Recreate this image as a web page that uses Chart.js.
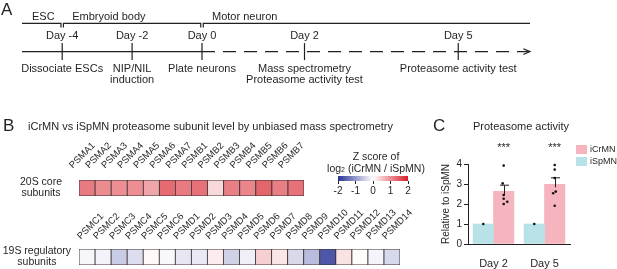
<!DOCTYPE html>
<html>
<head>
<meta charset="utf-8">
<title>Proteasome subunits and activity</title>
<script src="https://cdn.jsdelivr.net/npm/chart.js@4.4.1/dist/chart.umd.min.js"></script>
<style>
  html, body { margin: 0; padding: 0; background: #fff; }
  #figure { position: relative; width: 617px; height: 269px; overflow: hidden;
            font-family: "Liberation Sans", Arial, sans-serif; color: #231f20; }
  .panel { position: absolute; }
  .txt { position: absolute; white-space: nowrap; line-height: 1; font-size: 11px; }
  .letter { font-size: 17px; }
  .mid { transform: translateX(-50%); text-align: center; }
  .legend-row { height: 12px; font-size: 9px; line-height: 9px; white-space: nowrap; }
  .legend-row i { display: inline-block; width: 11px; height: 9px; margin-right: 3px; vertical-align: top; }
</style>
</head>
<body>
<div id="figure">
  <div class="panel" style="left:0;top:0;width:300px;height:100px"><canvas id="timelineLeft"></canvas></div>
  <div class="panel" style="left:140px;top:0;width:477px;height:100px"><canvas id="timelineRight"></canvas></div>
  <div class="panel" style="left:0;top:130px;width:340px;height:70px"><canvas id="core20S"></canvas></div>
  <div class="panel" style="left:0;top:200px;width:420px;height:69px"><canvas id="reg19S"></canvas></div>
  <div class="panel" style="left:318px;top:172px;width:112px;height:28px"><canvas id="zBar"></canvas></div>
  <div class="panel" style="left:430px;top:140px;width:187px;height:129px"><canvas id="activity"></canvas></div>

  <div class="txt letter" style="left:1px;top:1px">A</div>
  <div class="txt letter" style="left:3px;top:117px">B</div>
  <div class="txt letter" style="left:433px;top:117px">C</div>
  <div class="txt" style="left:28px;top:121px">iCrMN vs iSpMN proteasome subunit level by unbiased mass spectrometry</div>
  <div class="txt" style="left:473px;top:121px">Proteasome activity</div>
  <div class="txt mid" style="left:376px;top:151px;font-size:10.5px">Z score of</div>
  <div class="txt mid" style="left:376px;top:163px;font-size:10.5px">log<span style="font-size:7px">2</span> (iCrMN / iSpMN)</div>
  <div class="panel" id="legendC" style="left:576px;top:145px"></div>
</div>

<script>
// panel A timeline
const timelineDays = [-4, -2, 0, 2, 5];
const dayLabels = ['Day -4', 'Day -2', 'Day 0', 'Day 2', 'Day 5'];
const eventLabels = [
  ['Dissociate ESCs'],
  ['NIP/NIL', 'induction'],
  ['Plate neurons'],
  ['Mass spectrometry', 'Proteasome activity test'],
  ['Proteasome activity test']
];
const stageNames = ['ESC', 'Embryoid body', 'Motor neuron'];
const stageStart = [-5.15, -4, 0];
const stageEnd = [-4, 0, 6.4];

// panel B heatmaps (Z score of log2 iCrMN / iSpMN)
const coreSubunits = ['PSMA1', 'PSMA2', 'PSMA3', 'PSMA4', 'PSMA5', 'PSMA6', 'PSMA7',
                      'PSMB1', 'PSMB2', 'PSMB3', 'PSMB4', 'PSMB5', 'PSMB6', 'PSMB7'];
const coreZ = [1.17, 1.02, 1.0, 1.0, 0.8, 1.32, 1.17, 1.26, 0.35, 1.14, 1.08, 1.36, 1.14, 1.26];
const regSubunits = ['PSMC1', 'PSMC2', 'PSMC3', 'PSMC4', 'PSMC5', 'PSMC6', 'PSMD1', 'PSMD2',
                     'PSMD3', 'PSMD4', 'PSMD5', 'PSMD6', 'PSMD7', 'PSMD8', 'PSMD9', 'PSMD10',
                     'PSMD11', 'PSMD12', 'PSMD13', 'PSMD14'];
const regZ = [-0.08, -0.11, -0.5, -0.33, 0.06, -0.07, -0.23, -0.21, 0.17, -0.45,
              -0.16, 0.43, 0.22, -0.36, -0.65, -1.65, 0.26, 0.04, -0.1, -0.38];
const zTicks = [-2, -1, 0, 1, 2];

// panel C proteasome activity
const activityDays = ['Day 2', 'Day 5'];
const iSpMNMean = [1, 1];
const iCrMNMean = [2.63, 2.98];
const iCrMNSem = [0.31, 0.33];
const iSpMNPoints = [[1], [1]];
const iCrMNPoints = [[3.92, 3.03, 2.45, 2.26, 2.11, 2.0], [3.95, 3.72, 3.3, 2.62, 2.54, 1.91]];
const iCrMNJitter = [[0, -0.02, 0, 0, 0.07, 0], [0, 0, 0, 0.02, -0.03, 0]];
const significance = ['***', '***'];
const activityTicks = [0, 1, 2, 3, 4];
const legendOrder = ['iCrMN', 'iSpMN'];

// styles
const FONT_FAMILY = '"Liberation Sans", Arial, sans-serif';
const INK = '#231f20';
const CELL_EDGE = '#3b3031';
const SERIES_COLOR = { iCrMN: '#f6b5be', iSpMN: '#b9e2e8' };
const zLow = [40, 50, 150], zMid = [255, 255, 255], zHigh = [215, 30, 40];
const BAR_SHIFT = 0.2;   // half of a bar, in day-group units

Chart.defaults.font.family = FONT_FAMILY;
Chart.defaults.color = INK;
Chart.defaults.animation = false;
Chart.defaults.responsive = true;
Chart.defaults.maintainAspectRatio = false;
Chart.defaults.events = [];
Chart.defaults.plugins.legend.display = false;
Chart.defaults.plugins.tooltip.enabled = false;

function zColor(z) {
  const t = Math.max(-1, Math.min(1, z / 2));
  const end = t < 0 ? zLow : zHigh;
  const c = zMid.map((m, k) => Math.round(m + (end[k] - m) * Math.abs(t)));
  return `rgb(${c.join(',')})`;
}

// ---------- A: timeline ----------
const lane = { stageText: 9, stage: 17, stageTick: 22, day: 33, line: 52, event: 74, eventStep: 13 };

function lineSet(data, extra) {
  return Object.assign({ data, showLine: true, borderColor: INK, borderWidth: 1.2,
                         pointRadius: 0, clip: false }, extra);
}

function stageBracket(i, gap) {
  const last = stageNames.length - 1;
  const s = i > 0 ? stageStart[i] + gap : stageStart[i];
  const e = i < last ? stageEnd[i] - gap : stageEnd[i];
  const pts = [{ x: s, y: lane.stage }, { x: e, y: lane.stage }];
  if (i > 0) pts.unshift({ x: s, y: lane.stageTick });
  if (i < last) pts.push({ x: e, y: lane.stageTick });
  return lineSet(pts);
}

function dayTicks(idx) {
  return { data: idx.map(i => ({ x: timelineDays[i], y: lane.line })), showLine: false,
           pointStyle: 'line', pointRadius: 8.5, rotation: 90, borderColor: INK,
           borderWidth: 1.2, clip: false };
}

function timelineText(stages, days) {
  return {
    id: 'timelineText',
    afterDatasetsDraw(chart) {
      const { ctx, scales: { x, y } } = chart;
      ctx.save();
      ctx.fillStyle = INK;
      ctx.font = `11px ${FONT_FAMILY}`;
      ctx.textBaseline = 'middle';
      ctx.textAlign = 'left';
      stages.forEach(i => {
        ctx.fillText(stageNames[i], x.getPixelForValue(stageStart[i]) + 10, y.getPixelForValue(lane.stageText));
      });
      ctx.textAlign = 'center';
      days.forEach(i => {
        const px = x.getPixelForValue(timelineDays[i]);
        ctx.fillText(dayLabels[i], px, y.getPixelForValue(lane.day));
        eventLabels[i].forEach((txt, k) => {
          ctx.fillText(txt, px, y.getPixelForValue(lane.event + k * lane.eventStep));
        });
      });
      ctx.restore();
    }
  };
}

function timelineChart(id, xMin, xMax, pad, datasets, stages, days) {
  return new Chart(document.getElementById(id), {
    type: 'scatter',
    data: { datasets },
    options: {
      layout: { padding: { left: pad[0], right: pad[1], top: 0, bottom: 0 } },
      scales: {
        x: { type: 'linear', min: xMin, max: xMax, display: false },
        y: { type: 'linear', min: 0, max: 100, reverse: true, display: false }
      }
    },
    plugins: [timelineText(stages, days)]
  });
}

const preDays = [0, 1, 2], postDays = [3, 4];
const timelineEnd = stageEnd[stageEnd.length - 1];
const arrowDepth = 0.13;

timelineChart('timelineLeft', stageStart[0], 0, [22, 98], [
  stageBracket(0, 0.035),
  stageBracket(1, 0.035),
  lineSet([{ x: stageStart[0], y: lane.line }, { x: 0, y: lane.line }]),
  dayTicks(preDays)
], [0, 1], preDays);

timelineChart('timelineRight', 0, timelineEnd, [62, 87], [
  stageBracket(2, 0.025),
  lineSet([{ x: 0, y: lane.line }, { x: timelineEnd - arrowDepth / 3, y: lane.line }], { borderDash: [13, 8] }),
  lineSet([{ x: timelineEnd - arrowDepth, y: lane.line - 3.5 }, { x: timelineEnd, y: lane.line },
           { x: timelineEnd - arrowDepth, y: lane.line + 3.5 }]),
  dayTicks(postDays)
], [2], postDays);

// ---------- B: heatmaps ----------
const rowSpan = 1;

function heatmapChart(id, labels, z, rowLabel, o) {
  return new Chart(document.getElementById(id), {
    type: 'bar',
    data: {
      labels,
      datasets: [{
        data: labels.map(() => rowSpan),
        backgroundColor: z.map(zColor),
        borderColor: CELL_EDGE, borderWidth: 0.8, borderSkipped: false,
        barPercentage: 1, categoryPercentage: 1
      }]
    },
    options: {
      layout: { padding: { left: 0, right: o.padRight, top: 0, bottom: 4 } },
      scales: {
        x: {
          position: 'top', grid: { display: false }, border: { display: false },
          ticks: { autoSkip: false, minRotation: 45, maxRotation: 45, padding: o.labelGap,
                   labelOffset: o.labelShift, font: { size: 9.5 }, color: INK },
          afterFit: s => { s.height = o.axisHeight; s.paddingLeft = 0; s.paddingRight = 0; }
        },
        y: {
          min: 0, max: rowSpan, grid: { display: false }, border: { display: false },
          afterBuildTicks: s => { s.ticks = [{ value: rowSpan / 2 }]; },
          ticks: { callback: () => rowLabel, crossAlign: 'center', padding: o.rowPad,
                   font: { size: 10.5, lineHeight: 1.05 }, color: INK },
          afterFit: s => { s.width = 79; s.paddingTop = 0; s.paddingBottom = 0; }
        }
      }
    }
  });
}

heatmapChart('core20S', coreSubunits, coreZ, ['20S core', 'subunits'],
             { padRight: 36, axisHeight: 50, labelShift: -8, labelGap: 1, rowPad: 9 });
heatmapChart('reg19S', regSubunits, regZ, ['19S regulatory', 'subunits'],
             { padRight: 20, axisHeight: 49, labelShift: 0, labelGap: -1, rowPad: 0 });

// colour scale bar
const zGradient = {
  id: 'zGradient',
  beforeDatasetsDraw(chart) {
    const { ctx, chartArea: a, scales: { x } } = chart;
    const lo = zTicks[0], hi = zTicks[zTicks.length - 1];
    const g = ctx.createLinearGradient(x.getPixelForValue(lo), 0, x.getPixelForValue(hi), 0);
    zTicks.forEach(v => g.addColorStop((v - lo) / (hi - lo), zColor(v)));
    ctx.save();
    ctx.fillStyle = g;
    ctx.fillRect(a.left, a.top, a.width, a.height);
    ctx.restore();
  }
};

new Chart(document.getElementById('zBar'), {
  type: 'scatter',
  data: { datasets: [] },
  options: {
    layout: { padding: { left: 20, right: 22, top: 4, bottom: 0 } },
    scales: {
      x: {
        type: 'linear', min: zTicks[0], max: zTicks[zTicks.length - 1],
        afterBuildTicks: s => { s.ticks = zTicks.map(v => ({ value: v })); },
        grid: { drawOnChartArea: false, tickLength: 3, color: INK },
        border: { display: false },
        ticks: { padding: 1, font: { size: 10 }, color: INK },
        afterFit: s => { s.height = 19; s.paddingLeft = 0; s.paddingRight = 0; }
      },
      y: { display: false, min: 0, max: 1 }
    }
  },
  plugins: [zGradient]
});

// ---------- C: proteasome activity ----------
const spBars = activityDays.map((d, i) => ({ x: i - BAR_SHIFT, y: iSpMNMean[i] }));
const crBars = activityDays.map((d, i) => ({ x: i + BAR_SHIFT, y: iCrMNMean[i] }));
const dotData = [];
activityDays.forEach((d, i) => {
  iSpMNPoints[i].forEach(v => dotData.push({ x: i - BAR_SHIFT, y: v }));
  iCrMNPoints[i].forEach((v, k) => dotData.push({ x: i + BAR_SHIFT + iCrMNJitter[i][k], y: v }));
});

const activityMarks = {
  id: 'activityMarks',
  afterDatasetDraw(chart, args) {
    if (args.index !== 1) return;
    const { ctx, scales: { y } } = chart;
    ctx.save();
    ctx.strokeStyle = INK;
    ctx.lineWidth = 1;
    args.meta.data.forEach((bar, i) => {
      const top = y.getPixelForValue(iCrMNMean[i] + iCrMNSem[i]);
      const x = Math.round(bar.x) + 0.5;
      ctx.beginPath();
      ctx.moveTo(x, y.getPixelForValue(iCrMNMean[i]) + 3);
      ctx.lineTo(x, top);
      ctx.moveTo(x - 4.5, top);
      ctx.lineTo(x + 4.5, top);
      ctx.stroke();
    });
    ctx.restore();
  },
  afterDatasetsDraw(chart) {
    const { ctx, chartArea } = chart;
    ctx.save();
    ctx.fillStyle = INK;
    ctx.font = `11px ${FONT_FAMILY}`;
    ctx.textAlign = 'center';
    ctx.textBaseline = 'middle';
    chart.getDatasetMeta(1).data.forEach((bar, i) => {
      ctx.fillText(significance[i], bar.x, chartArea.top - 16);
    });
    ctx.restore();
  }
};

new Chart(document.getElementById('activity'), {
  type: 'bar',
  data: {
    datasets: [
      { label: 'iSpMN', data: spBars, backgroundColor: SERIES_COLOR.iSpMN, grouped: false,
        categoryPercentage: 1, barPercentage: 1, order: 2 },
      { label: 'iCrMN', data: crBars, backgroundColor: SERIES_COLOR.iCrMN, grouped: false,
        categoryPercentage: 1, barPercentage: 1, order: 2 },
      { type: 'scatter', data: dotData, pointRadius: 1.3,
        backgroundColor: '#111', borderWidth: 0, clip: false, order: 1 }
    ]
  },
  options: {
    layout: { padding: { left: 0, right: 47, top: 24, bottom: 0 } },
    scales: {
      x: {
        type: 'linear', min: -0.5, max: activityDays.length - 0.5, offset: false,
        afterBuildTicks: s => { s.ticks = activityDays.map((d, i) => ({ value: i })); },
        grid: { display: false }, border: { display: true, color: INK, width: 1 },
        ticks: { padding: 5, font: { size: 11 }, color: INK, callback: (v, i) => activityDays[i] },
        afterFit: s => { s.height = 25; }
      },
      y: {
        min: activityTicks[0], max: activityTicks[activityTicks.length - 1],
        afterBuildTicks: s => { s.ticks = activityTicks.map(v => ({ value: v })); },
        grid: { drawOnChartArea: false, tickLength: 4, color: INK },
        border: { display: true, color: INK, width: 1 },
        ticks: { padding: 2, font: { size: 10 }, color: INK },
        title: { display: true, text: 'Relative to iSpMN', font: { size: 10 }, color: INK,
                 padding: { top: 10, bottom: 0 } },
        afterFit: s => { s.width = 38; }
      }
    }
  },
  plugins: [activityMarks]
});

// legend for panel C
const legendBox = document.getElementById('legendC');
legendOrder.forEach(name => {
  const row = document.createElement('div');
  row.className = 'legend-row';
  row.innerHTML = `<i style="background:${SERIES_COLOR[name]}"></i>${name}`;
  legendBox.appendChild(row);
});
</script>
</body>
</html>
